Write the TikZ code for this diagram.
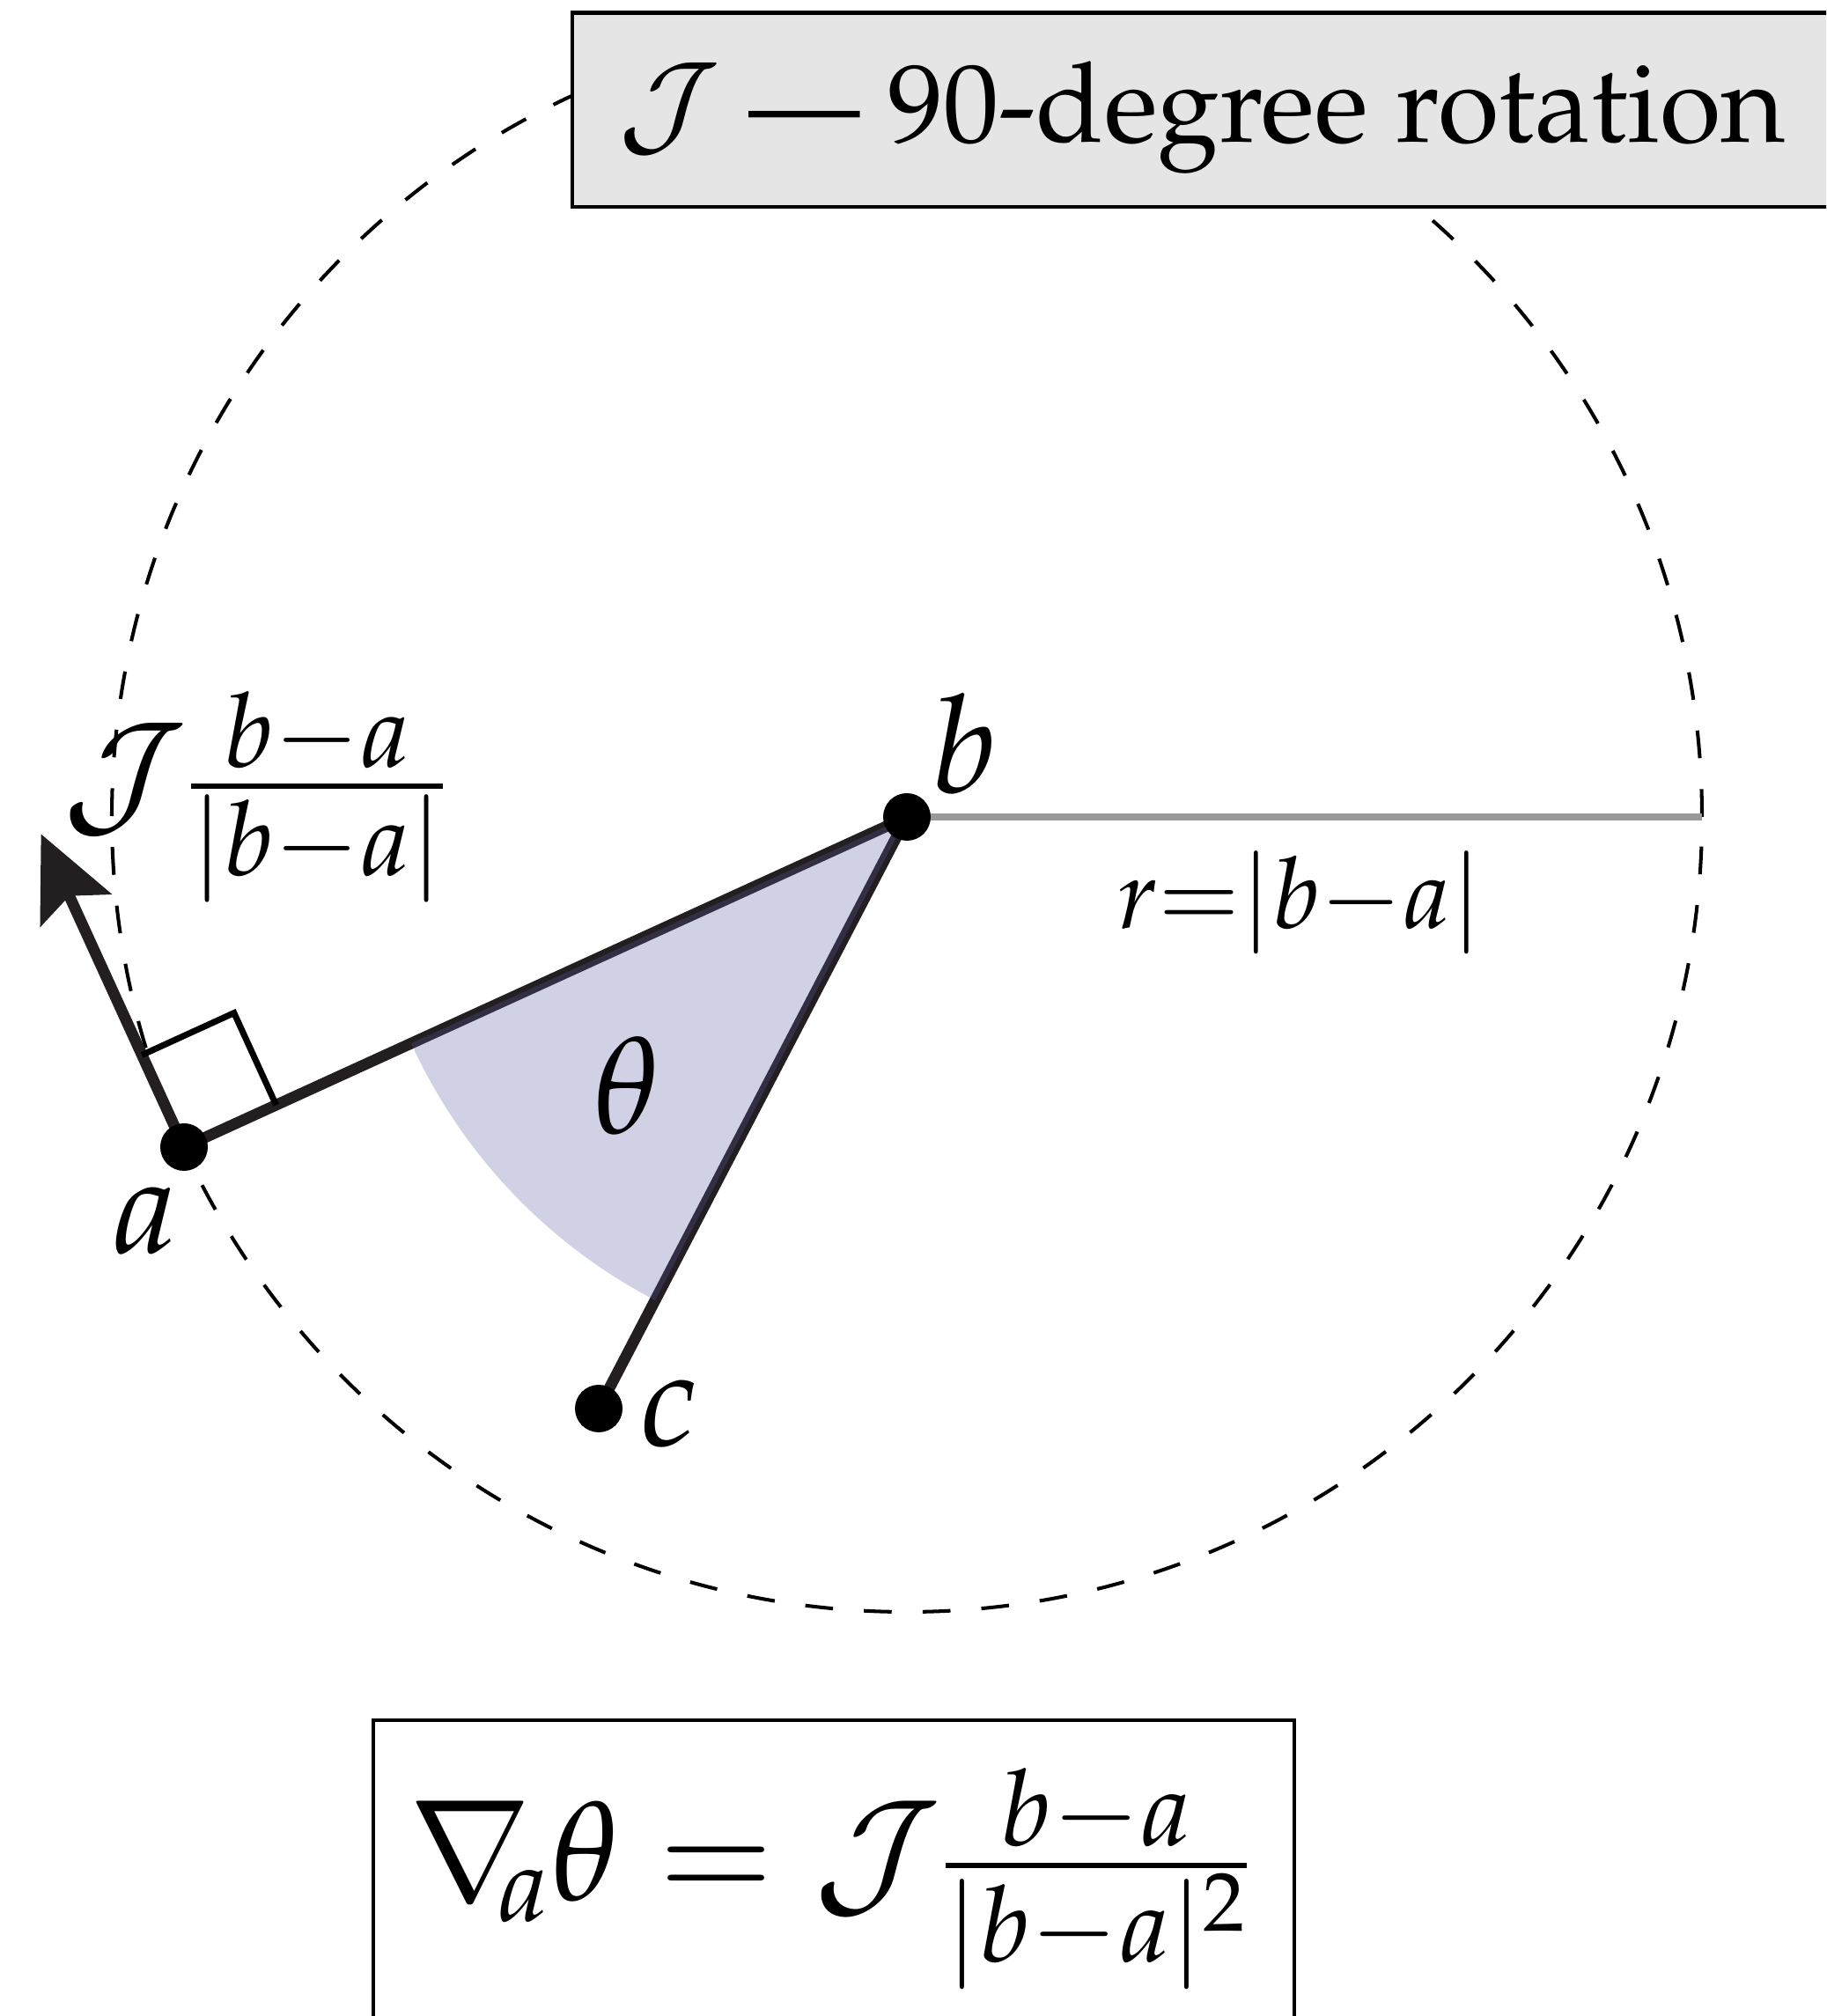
\documentclass[tikz,border=0pt]{standalone}
\usepackage[T1]{fontenc}
\usepackage{mathpazo}
\usepackage{tikz}
\usetikzlibrary{arrows.meta, calc}
\definecolor{InkDark}{RGB}{35,31,32}
\definecolor{SectorBlue}{RGB}{89,89,166}
\definecolor{RadiusGray}{RGB}{153,153,153}
\definecolor{BoxGray}{RGB}{229,229,229}

\begin{document}
\begin{tikzpicture}[
  seg/.style={draw=InkDark, line width=3.6pt},
  dot/.style={circle, fill=black, inner sep=0pt, minimum size=5.4mm},
  ptlabel/.style={font=\fontsize{44}{52}\selectfont, inner sep=0pt},
  orbit/.style={draw=black, line width=1.15pt, dash pattern=on 9pt off 10pt},
  radius line/.style={draw=RadiusGray, line width=2.3pt},
  rightmark/.style={draw=black, line width=2pt},
  boxline/.style={draw=black, line width=1.4pt},
  sector/.style={fill=SectorBlue, fill opacity=0.28},
]
\useasboundingbox (0,0) rectangle (20.74,22.90);
\clip (0,0) rectangle (20.74,22.90);

% Points
\coordinate (a) at (2.09,9.87);
\coordinate (b) at (10.30,13.62);
\coordinate (c) at (6.80,6.90);
\coordinate (rim) at ($(b)+(9.03,0)$);

% Circle of radius |b-a| about b
\draw[orbit] (b) circle [radius=9.03];
\draw[radius line] (b) -- (rim);

% Triangle sides and rotated direction
\draw[seg] (a) -- (b) -- (c);
\coordinate (tip) at ($(a)!3.91cm!90:(b)$);
\draw[seg, -{Stealth[length=27pt, width=25pt, inset=5pt]}] (a) -- (tip);

% Right angle mark
\coordinate (sqA) at ($(a)!1.15cm!(b)$);
\coordinate (sqC) at ($(a)!1.15cm!90:(b)$);
\draw[rightmark] (sqA) -- ($(sqA)+(sqC)-(a)$) -- (sqC);

% Angle at b
\fill[sector] (b) -- ($(b)!6.19cm!(a)$) arc [start angle=204.55, end angle=242.5, radius=6.19] -- cycle;

\node[dot] (adot) at (a) {};
\node[dot] (bdot) at (b) {};
\node[dot] (cdot) at (c) {};

% Labels
\node[ptlabel, anchor=base] (alab) at (1.65,8.66) {$a$};
\node[ptlabel, anchor=base] (blab) at (10.95,13.89) {$b$};
\node[ptlabel, anchor=base] (clab) at (7.60,6.47) {$c$};
\node[ptlabel, anchor=base] (thetalab) at (7.12,10.02) {$\theta$};
\node[font=\fontsize{44}{53}\selectfont, inner sep=0pt] (jlab) at (2.89,13.85)
  {$\mathcal{J}\frac{b-a}{|b-a|}$};
\node[font=\fontsize{32}{38}\selectfont, inner sep=0pt] (rlab) at (14.76,12.65)
  {$r{=}|b{-}a|$};

% Boxes
\draw[boxline, fill=BoxGray] (6.50,20.55) rectangle (21.20,22.75);
\node[font=\fontsize{36}{43}\selectfont, anchor=base west, inner sep=0pt] (rotlab)
  at (7.01,21.28) {$\mathcal{J}$ --- 90-degree rotation};
\draw[boxline] (4.24,3.36) rectangle (14.70,-0.30);
\node[font=\fontsize{45}{54}\selectfont, inner sep=0pt] (gradlab) at (9.42,1.56)
  {$\nabla_{\!\!a}\theta = \mathcal{J}\frac{b-a}{|b-a|^2}$};
\end{tikzpicture}
\end{document}
